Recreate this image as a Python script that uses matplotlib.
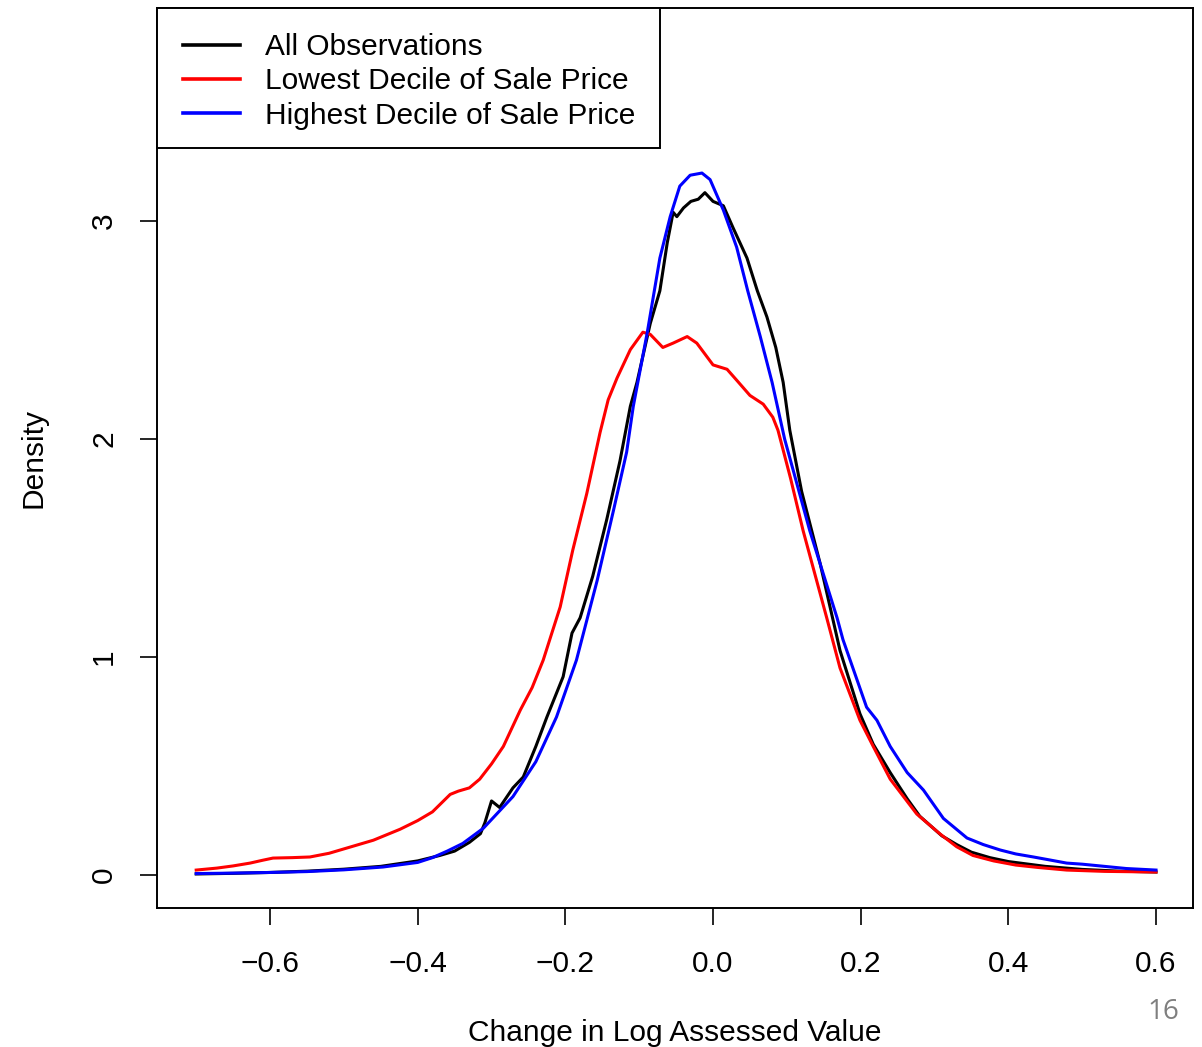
import matplotlib
matplotlib.use("Agg")
import matplotlib.pyplot as plt
from matplotlib.patches import Rectangle

plt.rcParams['font.family'] = ['Liberation Sans', 'DejaVu Sans']

# ---- data ----
all_x = [-0.70, -0.65, -0.60, -0.55, -0.50, -0.45, -0.40, -0.37, -0.35, -0.33, -0.315,
         -0.309, -0.300, -0.289, -0.271, -0.257, -0.240, -0.225, -0.203, -0.191, -0.180,
         -0.163, -0.144, -0.126, -0.112, -0.103, -0.085, -0.072, -0.062, -0.054, -0.049,
         -0.040, -0.030, -0.020, -0.011, 0.000, 0.014, 0.027, 0.046, 0.060, 0.073, 0.085,
         0.095, 0.104, 0.120, 0.145, 0.172, 0.199, 0.217, 0.240, 0.263, 0.28, 0.31, 0.33,
         0.35, 0.375, 0.40, 0.45, 0.50, 0.55, 0.60]
all_y = [0.005, 0.008, 0.012, 0.018, 0.027, 0.040, 0.065, 0.09, 0.11, 0.15, 0.19,
         0.24, 0.34, 0.31, 0.40, 0.45, 0.59, 0.725, 0.91, 1.11, 1.18,
         1.37, 1.63, 1.90, 2.15, 2.26, 2.53, 2.68, 2.90, 3.04, 3.02,
         3.06, 3.09, 3.10, 3.13, 3.09, 3.07, 2.97, 2.83, 2.68, 2.56, 2.42,
         2.26, 2.04, 1.76, 1.43, 1.03, 0.74, 0.60, 0.47, 0.35, 0.27, 0.18, 0.14,
         0.105, 0.08, 0.062, 0.040, 0.026, 0.018, 0.014]

low_x = [-0.70, -0.672, -0.65, -0.627, -0.61, -0.596, -0.57, -0.546, -0.52, -0.49,
         -0.46, -0.424, -0.40, -0.38, -0.365, -0.356, -0.345, -0.33, -0.316, -0.30,
         -0.284, -0.261, -0.245, -0.230, -0.207, -0.190, -0.171, -0.153, -0.142, -0.130,
         -0.112, -0.095, -0.085, -0.068, -0.054, -0.035, -0.022, 0.000, 0.019, 0.032,
         0.050, 0.068, 0.081, 0.088, 0.105, 0.122, 0.154, 0.172, 0.199, 0.217, 0.240,
         0.276, 0.307, 0.33, 0.352, 0.38, 0.41, 0.44, 0.479, 0.53, 0.60]
low_y = [0.023, 0.032, 0.042, 0.055, 0.068, 0.078, 0.080, 0.083, 0.10, 0.13,
         0.16, 0.21, 0.25, 0.29, 0.34, 0.37, 0.385, 0.40, 0.44, 0.51,
         0.59, 0.757, 0.86, 0.986, 1.23, 1.49, 1.75, 2.03, 2.18, 2.28,
         2.41, 2.49, 2.48, 2.42, 2.44, 2.47, 2.44, 2.34, 2.32, 2.27,
         2.20, 2.16, 2.10, 2.04, 1.82, 1.58, 1.18, 0.95, 0.71, 0.59, 0.44,
         0.28, 0.19, 0.13, 0.09, 0.065, 0.046, 0.035, 0.023, 0.017, 0.014]

high_x = [-0.70, -0.65, -0.60, -0.55, -0.50, -0.447, -0.40, -0.38, -0.36, -0.339,
          -0.311, -0.271, -0.240, -0.212, -0.185, -0.157, -0.135, -0.117, -0.108, -0.089,
          -0.072, -0.058, -0.045, -0.031, -0.015, -0.004, 0.014, 0.032, 0.047, 0.064,
          0.080, 0.097, 0.131, 0.168, 0.176, 0.208, 0.222, 0.240, 0.263, 0.285, 0.312,
          0.344, 0.366, 0.389, 0.41, 0.434, 0.455, 0.479, 0.50, 0.53, 0.56, 0.60]
high_y = [0.007, 0.009, 0.012, 0.016, 0.024, 0.037, 0.058, 0.080, 0.11, 0.145,
          0.215, 0.36, 0.52, 0.725, 0.986, 1.35, 1.67, 1.94, 2.15, 2.49,
          2.83, 3.02, 3.16, 3.21, 3.22, 3.19, 3.05, 2.88, 2.68, 2.47,
          2.26, 2.00, 1.58, 1.18, 1.08, 0.77, 0.71, 0.59, 0.47, 0.39, 0.26,
          0.17, 0.14, 0.115, 0.097, 0.083, 0.07, 0.055, 0.05, 0.04, 0.03, 0.023]

series_labels = ["All Observations", "Lowest Decile of Sale Price", "Highest Decile of Sale Price"]
series_colors = ["black", "red", "blue"]
x_ticks = [-0.6, -0.4, -0.2, 0.0, 0.2, 0.4, 0.6]
y_ticks = [0, 1, 2, 3]

W, H = 1202, 1047
fig = plt.figure(figsize=(W / 100, H / 100), dpi=100)
ax = fig.add_axes([157 / W, (H - 908) / H, (1193 - 157) / W, (908 - 8) / H])

for xs, ys, lab, col in zip([all_x, low_x, high_x], [all_y, low_y, high_y],
                            series_labels, series_colors):
    ax.plot(xs, ys, color=col, lw=2.2, label=lab, solid_joinstyle='round')

ax.set_xlim(-0.7531, 0.6501)
ax.set_ylim(-0.151, 3.977)
ax.set_xticks(x_ticks)
ax.set_xticklabels([f"{v:.1f}".replace("-", "\u2212") for v in x_ticks])
ax.set_yticks(y_ticks)
ax.set_yticklabels([str(v) for v in y_ticks], rotation=90, va='center')

for s in ax.spines.values():
    s.set_linewidth(1.4)
ax.tick_params(axis='both', direction='out', length=12, width=1.2, labelsize=21.5, colors='black')
ax.tick_params(axis='x', pad=18)
ax.tick_params(axis='y', pad=16)

ax.set_xlabel("Change in Log Assessed Value", fontsize=21.5, labelpad=30)
ax.set_ylabel("Density", fontsize=21.5, labelpad=31)

# legend: box drawn by hand, entries without frame
box_w = (660 - 157) / 1036
box_h = (148 - 8) / 900
ax.add_patch(Rectangle((0, 1 - box_h), box_w, box_h, transform=ax.transAxes,
                       facecolor='white', edgecolor='black', lw=1.4, zorder=5,
                       clip_on=False))
leg = ax.legend(loc='upper left', bbox_to_anchor=((183 - 157) / 1036, (908 - 33) / 900),
                borderaxespad=0, borderpad=0, fontsize=21.5, frameon=False,
                handlelength=1.9, handletextpad=0.85, labelspacing=0.21)
leg.set_zorder(6)
for l in leg.get_lines():
    l.set_linewidth(2.6)

fig.text(1163 / W, 1 - 1012 / H, "16", fontsize=20, color='#7f7f7f',
         ha='center', va='center', family=['Open Sans', 'DejaVu Sans'])

fig.savefig("out.png", dpi=100)
